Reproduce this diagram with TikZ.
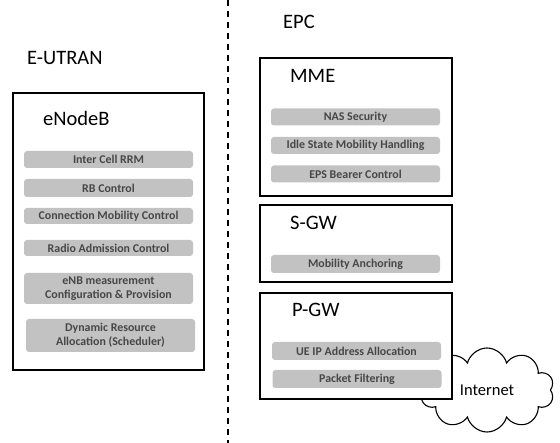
\documentclass[tikz,border=0pt]{standalone}
\usepackage{fontspec}
\setmainfont{Carlito}
\usetikzlibrary{shapes.symbols}

\tikzset{
  entity/.style={draw, line width=1.3pt, fill=white, inner sep=0pt},
  heading/.style={anchor=west, inner sep=0pt, font=\fontsize{20.5}{24}\selectfont},
  func/.style={fill=black!24, rounded corners=3pt, minimum width=169pt, minimum height=17pt,
    inner sep=0pt, align=center, text=black!72, font=\fontsize{11.9}{14}\selectfont\bfseries}
}

\begin{document}
\begin{tikzpicture}[x=1pt, y=-1pt]
\useasboundingbox (0,0) rectangle (560,443);

% split between access and core
\coordinate (split top) at (228,0);
\coordinate (split bottom) at (228,443);
\draw[line width=2pt, dash pattern=on 6.5pt off 4.5pt] (split top) -- (split bottom);

\node[heading] (eutran) at (27,58) {E-UTRAN};
\node[heading] (epc) at (283,22) {EPC};

% internet cloud, behind the P-GW box
\node[cloud, draw, line width=1.1pt, cloud puffs=10, aspect=1.6, minimum width=134pt, minimum height=84pt,
  inner sep=0pt, font=\fontsize{16.5}{19}\selectfont] (inet) at (487,390) {Internet};

% eNodeB
\node[entity, minimum width=191pt, minimum height=277pt] (enb) at (108.5,231.5) {};
\node[heading] (enb title) at (43,118) {eNodeB};
\node[func] (rrm) at (108.5,159.5) {Inter Cell RRM};
\node[func, minimum height=18pt] (rb) at (108.5,188) {RB Control};
\node[func, minimum height=16pt] (cmc) at (108.5,216) {Connection Mobility Control};
\node[func, minimum height=16pt] (rac) at (108.5,248) {Radio Admission Control};
\node[func, minimum height=31pt] (meas) at (108.5,288.5) {eNB measurement\\Configuration \& Provision};
\node[func, minimum height=33pt] (dra) at (110.5,335.5) {Dynamic Resource\\Allocation (Scheduler)};

% MME
\node[entity, minimum width=192pt, minimum height=138pt] (mme) at (356,127) {};
\node[heading] (mme title) at (290,76) {MME};
\node[func] (nas) at (355.5,117) {NAS Security};
\node[func] (idle) at (355.5,145.5) {Idle State Mobility Handling};
\node[func] (eps) at (355.5,174) {EPS Bearer Control};

% S-GW
\node[entity, minimum width=192pt, minimum height=77pt] (sgw) at (356,243.5) {};
\node[heading] (sgw title) at (290,223) {S-GW};
\node[func, minimum height=18pt] (anchor) at (355.5,264) {Mobility Anchoring};

% P-GW
\node[entity, minimum width=192pt, minimum height=106pt] (pgw) at (356,346) {};
\node[heading] (pgw title) at (292,310) {P-GW};
\node[func, minimum height=18pt] (ueip) at (356.5,351) {UE IP Address Allocation};
\node[func, minimum height=18pt] (filter) at (357,379) {Packet Filtering};
\end{tikzpicture}
\end{document}
